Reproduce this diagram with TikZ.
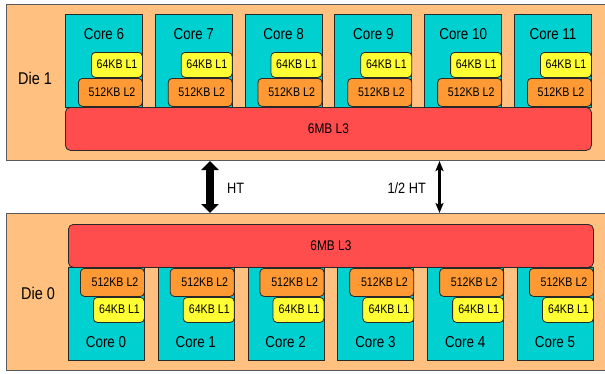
\documentclass[tikz,border=0pt]{standalone}
\usepackage{fontspec}
\setmainfont[FakeStretch=0.85]{Liberation Sans}
\usetikzlibrary{arrows.meta}
\definecolor{diefill}{RGB}{255,192,128}
\definecolor{corefill}{RGB}{0,208,208}
\definecolor{lonefill}{RGB}{255,255,51}
\definecolor{ltwofill}{RGB}{255,153,51}
\definecolor{lthreefill}{RGB}{255,76,76}
\definecolor{edge}{RGB}{40,40,40}
\definecolor{dieedge}{RGB}{90,90,90}
\begin{document}
\begin{tikzpicture}[x=1pt,y=-1pt,
  diebox/.style={draw=dieedge,line width=1pt,fill=diefill,rectangle,inner sep=0pt,anchor=north west},
  corebox/.style={draw=edge,line width=0.8pt,fill=corefill,rectangle,inner sep=0pt,anchor=north west,minimum width=77pt,minimum height=93pt},
  lone/.style={draw=edge,line width=0.8pt,fill=lonefill,rectangle,rounded corners=4pt,inner sep=0pt,anchor=north west,minimum width=51pt,minimum height=25pt},
  ltwo/.style={draw=edge,line width=0.8pt,fill=ltwofill,rectangle,rounded corners=4pt,inner sep=0pt,anchor=north west,minimum width=64pt,minimum height=28pt},
  lthree/.style={draw=edge,line width=0.8pt,fill=lthreefill,rectangle,rounded corners=5pt,inner sep=0pt,anchor=north west},
  coretxt/.style={font=\fontsize{15.8}{17}\selectfont,inner sep=0pt},
  ltxt/.style={font=\fontsize{12.5}{14}\selectfont,inner sep=0pt},
  dietxt/.style={font=\fontsize{17}{19}\selectfont,inner sep=0pt},
  httxt/.style={font=\fontsize{15}{17}\selectfont,inner sep=0pt},
  l3txt/.style={font=\fontsize{14}{16}\selectfont,inner sep=0pt}
]
\useasboundingbox (0,0) rectangle (605,373);
\clip (0,0) rectangle (605,373);

% Die 1
\node[diebox,minimum width=610pt,minimum height=156pt] (die1) at (6,4) {};
\node[dietxt] (die1lab) at (35,78) {Die 1};
\foreach \i/\n in {0/6,1/7,2/8,3/9,4/10,5/11}{
  \pgfmathsetmacro{\xa}{65+\i*89.8}
  \node[corebox] (core\n) at (\xa,14) {};
  \node[coretxt] (core\n lab) at (\xa+39,34) {Core \n};
  \node[lone] (lone\n) at (\xa+26,52) {};
  \node[ltxt] at (\xa+52,64.5) {64KB L1};
  \node[ltwo] (ltwo\n) at (\xa+13,78) {};
  \node[ltxt] at (\xa+47,92) {512KB L2};
}
\node[lthree,minimum width=526pt,minimum height=43pt] (lthreeA) at (65,107) {};
\node[l3txt] at (lthreeA.center) {6MB L3};

% Die 0
\node[diebox,minimum width=610pt,minimum height=157pt] (die0) at (6,213) {};
\node[dietxt] (die0lab) at (38,293) {Die 0};
\foreach \i/\n in {0/0,1/1,2/2,3/3,4/4,5/5}{
  \pgfmathsetmacro{\xa}{68+\i*89.8}
  \node[corebox,minimum width=76pt] (core\n) at (\xa,267) {};
  \node[coretxt] (core\n lab) at (\xa+38,342) {Core \n};
  \node[lone] (lone\n) at (\xa+25,297) {};
  \node[ltxt] at (\xa+51.5,309.5) {64KB L1};
  \node[ltwo] (ltwo\n) at (\xa+12,268) {};
  \node[ltxt] at (\xa+47,282) {512KB L2};
}
\node[lthree,minimum width=525pt,minimum height=43pt] (lthreeB) at (68,224) {};
\node[l3txt] at (lthreeB.center) {6MB L3};

% links
\coordinate (htA) at (210,0);
\coordinate (htB) at (439.5,0);
\draw[line width=8pt,{Triangle[width=17pt,length=9pt]}-{Triangle[width=17pt,length=9pt]}]
  (die1.south -| htA) -- (die0.north -| htA);
\node[httxt,anchor=west] (htlab) at (227,188) {HT};
\draw[line width=2.2pt,{Stealth[width=8pt,length=10pt,inset=2pt]}-{Stealth[width=8pt,length=10pt,inset=2pt]}]
  (die1.south -| htB) -- (die0.north -| htB);
\node[httxt,anchor=east] (halflab) at (426,188) {1/2 HT};
\end{tikzpicture}
\end{document}
